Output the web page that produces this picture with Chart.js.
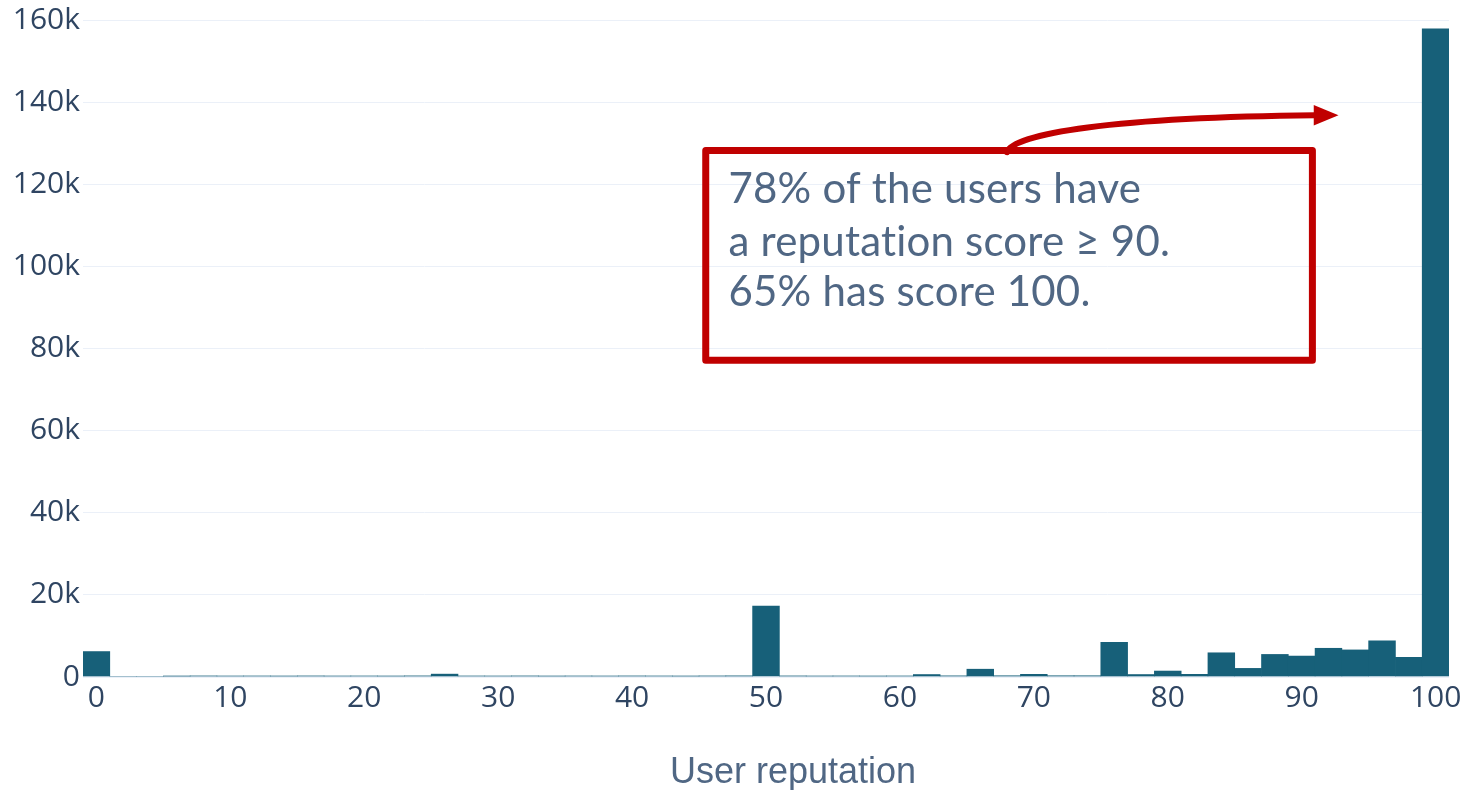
<!DOCTYPE html>
<html>
<head>
<meta charset="utf-8">
<title>User reputation</title>
<script src="https://cdn.jsdelivr.net/npm/chart.js@4.4.1/dist/chart.umd.min.js"></script>
<style>
    html, body { margin: 0; padding: 0; background: #ffffff; }
    canvas { display: block; }
</style>
</head>
<body>
<canvas id="myChart" width="1468" height="790"></canvas>
<script>
// histogram bins (bin centres, width 2)
const binCenters = [
    0, 2, 4, 6, 8, 10, 12, 14, 16, 18,
    20, 22, 24, 26, 28, 30, 32, 34, 36, 38,
    40, 42, 44, 46, 48, 50, 52, 54, 56, 58,
    60, 62, 64, 66, 68, 70, 72, 74, 76, 78,
    80, 82, 84, 86, 88, 90, 92, 94, 96, 98,
    100
];

// number of users per bin
const userCounts = [
    6200, 0, 0, 220, 260, 240, 250, 230, 260, 240,
    250, 230, 270, 700, 250, 240, 260, 230, 250, 240,
    260, 250, 230, 260, 280, 17300, 260, 240, 250, 230,
    250, 600, 280, 1900, 300, 650, 300, 300, 8450, 600,
    1450, 650, 5900, 2100, 5500, 5100, 7000, 6600, 8800, 4800,
    158000
];

const xTickLabels = [0, 10, 20, 30, 40, 50, 60, 70, 80, 90, 100];
const yTickValues = [0, 20000, 40000, 60000, 80000, 100000, 120000, 140000, 160000];

const xTitle = 'User reputation';
const noteLines = [
    '78% of the users have',
    'a reputation score \u2265 90.',
    '65% has score 100.'
];

const barColor = '#176079';
const gridColor = '#ebf0f8';
const tickColor = '#2f4562';
const noteColor = '#506784';
const noteRed = '#c00000';

// annotation placement in data units (reputation, users)
const note = {
    box: { left: 45.5, right: 90.8, top: 128300, bottom: 77200 },
    textLeft: 47.2,
    baselines: [115600, 102700, 90300],
    arrow: {
        start: [68.0, 127900],
        cp1: [68.4, 132500],
        cp2: [76.0, 136400],
        end: [91.0, 136900],
        tip: [92.75, 136900],
        halfHeight: 2500
    }
};

const chartCanvas = document.getElementById('myChart').getContext('2d');

const notePlugin = {
    id: 'reputationNote',
    afterDraw(chart) {
        const { ctx, chartArea, scales: { x, y } } = chart;
        const px = r => x.getPixelForValue(r / 2);
        const py = v => y.getPixelForValue(v);

        ctx.save();

        // axis title
        ctx.font = '36px "Liberation Sans", Arial, sans-serif';
        ctx.fillStyle = noteColor;
        ctx.textAlign = 'center';
        ctx.textBaseline = 'alphabetic';
        ctx.fillText(xTitle, (chartArea.left + chartArea.right) / 2 + 27, 783);

        // box
        const b = note.box;
        ctx.strokeStyle = noteRed;
        ctx.lineWidth = 7;
        ctx.lineJoin = 'round';
        ctx.beginPath();
        ctx.rect(px(b.left), py(b.top), px(b.right) - px(b.left), py(b.bottom) - py(b.top));
        ctx.stroke();

        // text
        ctx.font = '42px Lato, "Open Sans", sans-serif';
        ctx.letterSpacing = '0.2px';
        ctx.fillStyle = noteColor;
        ctx.textAlign = 'left';
        noteLines.forEach((line, i) => {
            ctx.fillText(line, px(note.textLeft), py(note.baselines[i]));
        });
        ctx.letterSpacing = '0px';

        // curved arrow
        const a = note.arrow;
        ctx.lineWidth = 6;
        ctx.lineCap = 'round';
        ctx.beginPath();
        ctx.moveTo(px(a.start[0]), py(a.start[1]));
        ctx.bezierCurveTo(
            px(a.cp1[0]), py(a.cp1[1]),
            px(a.cp2[0]), py(a.cp2[1]),
            px(a.end[0]), py(a.end[1])
        );
        ctx.stroke();

        ctx.fillStyle = noteRed;
        ctx.beginPath();
        ctx.moveTo(px(a.tip[0]), py(a.tip[1]));
        ctx.lineTo(px(a.end[0] - 0.1), py(a.end[1] + a.halfHeight));
        ctx.lineTo(px(a.end[0] - 0.1), py(a.end[1] - a.halfHeight));
        ctx.closePath();
        ctx.fill();

        ctx.restore();
    }
};

const myChart = new Chart(chartCanvas, {
    type: 'bar',
    data: {
        labels: binCenters,
        datasets: [{
            label: 'Users',
            data: userCounts,
            backgroundColor: barColor,
            borderWidth: 0,
            categoryPercentage: 1,
            barPercentage: 1
        }]
    },
    options: {
        responsive: false,
        animation: false,
        layout: {
            padding: { top: 0, right: 19, bottom: 0, left: 0 }
        },
        plugins: {
            legend: { display: false },
            tooltip: { enabled: false }
        },
        scales: {
            x: {
                offset: true,
                grid: { display: false, drawTicks: false },
                border: { display: false },
                ticks: {
                    autoSkip: false,
                    maxRotation: 0,
                    padding: 3,
                    color: tickColor,
                    font: { family: '"Open Sans"', size: 30 },
                    callback: (value, index) =>
                        xTickLabels.includes(binCenters[index]) ? String(binCenters[index]) : null
                },
                afterFit: scale => {
                    scale.height = 113;
                    scale.paddingLeft = 0;
                    scale.paddingRight = 0;
                }
            },
            y: {
                min: 0,
                max: 165000,
                grid: {
                    color: gridColor,
                    lineWidth: ctx => (ctx.tick && ctx.tick.value === 0 ? 2 : 1),
                    drawTicks: false
                },
                border: { display: false },
                afterBuildTicks: scale => {
                    scale.ticks = yTickValues.map(value => ({ value }));
                },
                ticks: {
                    padding: 3,
                    color: tickColor,
                    font: { family: '"Open Sans"', size: 30 },
                    callback: value => (value === 0 ? '0' : value / 1000 + 'k')
                },
                afterFit: scale => {
                    scale.width = 83;
                    scale.paddingTop = 0;
                    scale.paddingBottom = 0;
                }
            }
        }
    },
    plugins: [notePlugin]
});
</script>
</body>
</html>
